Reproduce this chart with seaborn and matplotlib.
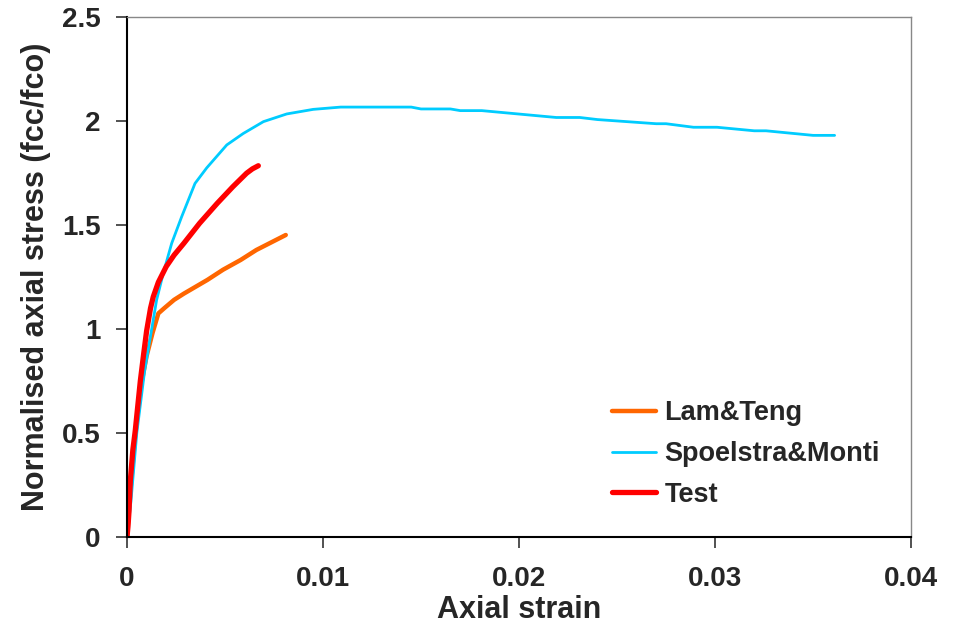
import pandas as pd
import seaborn as sns
import matplotlib
matplotlib.use("Agg")
import matplotlib.pyplot as plt

lam_strain = [0, 0.0001, 0.0002, 0.0004, 0.0007, 0.0010, 0.0013, 0.0016, 0.0019, 0.0024,
              0.0029, 0.0041, 0.0049, 0.0058, 0.0066, 0.0071, 0.0081]
lam_stress = [0, 0.13, 0.25, 0.47, 0.72, 0.87, 0.98, 1.075, 1.10, 1.14,
              1.17, 1.236, 1.285, 1.332, 1.38, 1.404, 1.452]

sm_strain = [0, 0.0002, 0.0005, 0.0009, 0.00126, 0.00151, 0.00185, 0.00228, 0.00279, 0.0033,
             0.00347, 0.00407, 0.00509, 0.00593, 0.00696, 0.00815, 0.0095, 0.0109, 0.0145,
             0.0150, 0.0165, 0.0170, 0.0181, 0.0219, 0.0231, 0.0240, 0.0270, 0.0275,
             0.0289, 0.0301, 0.0320, 0.0326, 0.0350, 0.0361]
sm_stress = [0, 0.17, 0.5, 0.8, 1.0, 1.139, 1.268, 1.412, 1.54, 1.66,
             1.70, 1.775, 1.885, 1.94, 1.997, 2.034, 2.056, 2.067, 2.067,
             2.058, 2.058, 2.05, 2.05, 2.017, 2.017, 2.007, 1.987, 1.987,
             1.97, 1.97, 1.953, 1.953, 1.931, 1.931]

test_strain = [0, 0.00005, 0.0001, 0.00017, 0.0003, 0.00042, 0.00055, 0.00068, 0.00085,
               0.0010, 0.0012, 0.00134, 0.0016, 0.0020, 0.0024, 0.0029, 0.0033, 0.0037,
               0.0046, 0.0054, 0.0061, 0.0064, 0.0067]
test_stress = [0, 0.05, 0.12, 0.27, 0.42, 0.51, 0.63, 0.75, 0.88,
               0.99, 1.10, 1.155, 1.225, 1.30, 1.355, 1.412, 1.46, 1.508,
               1.604, 1.684, 1.749, 1.77, 1.785]

x_ticks = [0, 0.01, 0.02, 0.03, 0.04]
x_tick_labels = ["0", "0.01", "0.02", "0.03", "0.04"]
y_ticks = [0, 0.5, 1, 1.5, 2, 2.5]
y_tick_labels = ["0", "0.5", "1", "1.5", "2", "2.5"]

sns.set_style("white")
plt.rcParams["font.family"] = ["Liberation Sans", "DejaVu Sans"]
plt.rcParams["font.weight"] = "bold"

fig = plt.figure(figsize=(9.57, 6.26), dpi=100)
ax = fig.add_axes([0.1327, 0.1422, 0.8193, 0.8306])

sns.lineplot(x=lam_strain, y=lam_stress, sort=False, estimator=None, ax=ax,
             color="#FF6600", lw=3.2, label="Lam&Teng", solid_capstyle="round")
sns.lineplot(x=sm_strain, y=sm_stress, sort=False, estimator=None, ax=ax,
             color="#00CCFF", lw=2.0, label="Spoelstra&Monti", solid_capstyle="round")
sns.lineplot(x=test_strain, y=test_stress, sort=False, estimator=None, ax=ax,
             color="#FF0000", lw=3.8, label="Test", solid_capstyle="round")

ax.set_xlim(0, 0.04)
ax.set_ylim(0, 2.5)
ax.set_xticks(x_ticks)
ax.set_xticklabels(x_tick_labels)
ax.set_yticks(y_ticks)
ax.set_yticklabels(y_tick_labels)
ax.tick_params(axis="both", direction="out", length=8, width=1.2, color="#333333",
               labelsize=20, left=True, bottom=True)
ax.tick_params(axis="x", pad=13)
ax.tick_params(axis="y", pad=11)
for lab in ax.get_xticklabels() + ax.get_yticklabels():
    lab.set_fontweight("bold")

for side in ["left", "bottom"]:
    ax.spines[side].set_color("black")
    ax.spines[side].set_linewidth(1.5)
for side in ["top", "right"]:
    ax.spines[side].set_color("#888888")
    ax.spines[side].set_linewidth(1.0)

ax.set_xlabel("Axial strain", fontsize=22, fontweight="bold", labelpad=2)
ax.set_ylabel("Normalised axial stress (fcc/fco)", fontsize=22, fontweight="bold", labelpad=8)

leg = ax.legend(loc="upper left", bbox_to_anchor=(0.587, 0.31), frameon=False,
                fontsize=19.5, handlelength=1.65, handletextpad=0.3, labelspacing=0.55)
for t in leg.get_texts():
    t.set_fontweight("bold")

fig.savefig("out.png", dpi=100)
plt.close(fig)
